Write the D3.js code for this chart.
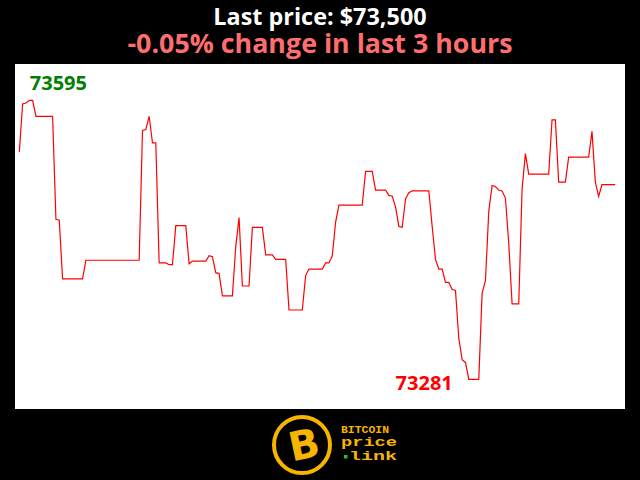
<!DOCTYPE html>
<html><head><meta charset="utf-8">
<script src="https://cdn.jsdelivr.net/npm/d3@7"></script>
<style>html,body{margin:0;padding:0;background:#000;}svg{display:block;}</style>
</head><body>
<svg id="c" width="640" height="480"></svg>
<script>
// minute index (0..179 over the last 3 hours) at each vertex of the line, and price there
const minutes = [0,1,2,3,4,5,10,11,12,13,19,20,36,37,38,39,40,41,42,44,45,46,47,50,51,52,56,57,58,59,60,61,64,65,66,67,69,70,73,74,76,77,80,81,85,86,87,91,92,93,94,95,96,103,104,106,107,110,111,112,113,114,115,116,117,118,123,124,125,126,127,128,129,130,131,132,133,134,135,138,139,140,141,142,143,144,145,146,147,148,150,151,152,153,159,160,161,162,164,165,171,172,173,174,175,179];
const prices = [73537,73591,73592,73595,73595,73577,73577,73461,73460,73394,73394,73415,73415,73561,73562,73577,73547,73547,73412,73412,73410,73410,73454,73454,73411,73414,73414,73420,73419,73401,73400,73375,73375,73430,73463,73386,73386,73452,73452,73421,73421,73416,73416,73359,73359,73398,73405,73405,73412,73412,73420,73458,73477,73477,73515,73515,73494,73494,73488,73487,73475,73453,73452,73484,73491,73493,73493,73453,73416,73405,73405,73390,73390,73382,73381,73327,73303,73300,73281,73281,73378,73392,73470,73499,73498,73494,73493,73485,73434,73366,73366,73495,73535,73512,73512,73573,73573,73503,73503,73531,73531,73560,73503,73487,73500,73500];
const titleLines = ["Last price: $73,500", "-0.05% change in last 3 hours"];
const logoWords = ["BITCOIN", "price", "link"];

const svg = d3.select("#c");
svg.append("rect").attr("width",640).attr("height",480).attr("fill","#000");
svg.append("rect").attr("x",15).attr("y",64).attr("width",610).attr("height",345).attr("fill","#fff");

const data = minutes.map((m,i)=>({m, p: prices[i]}));
const x = d3.scaleLinear().domain([0,179]).range([19.3,615.3]);
const yMin = d3.min(prices), yMax = d3.max(prices);
const y = d3.scaleLinear().domain([yMin,yMax]).range([379.3,100.3]);

svg.append("path").datum(data)
  .attr("d", d3.line().x(d=>x(d.m)).y(d=>y(d.p)))
  .attr("fill","none").attr("stroke","#ff0000").attr("stroke-width",1.2);

const maxD = data.find(d=>d.p===yMax), minD = data.find(d=>d.p===yMin);
svg.append("text").attr("x", x(maxD.m)+0.5).attr("y", y(maxD.p)-10)
  .attr("font-family","'Open Sans'").attr("font-weight","bold").attr("font-size",20)
  .attr("fill","#008000").text(yMax);
svg.append("text").attr("x", x(minD.m)-16).attr("y", y(minD.p)+11).attr("text-anchor","end")
  .attr("font-family","'Open Sans'").attr("font-weight","bold").attr("font-size",20)
  .attr("fill","#ff0000").text(yMin);

svg.append("text").attr("x",320).attr("y",25).attr("text-anchor","middle")
  .attr("font-family","'Open Sans'").attr("font-weight","bold").attr("font-size",23.4)
  .attr("fill","#fff").text(titleLines[0]);
svg.append("text").attr("x",320).attr("y",53).attr("text-anchor","middle")
  .attr("font-family","'Open Sans'").attr("font-weight","bold").attr("font-size",26.8)
  .attr("fill","#ff6e6e").text(titleLines[1]);

// logo
const gold = "#f7b500";
const lg = svg.append("g");
lg.append("circle").attr("cx",302).attr("cy",445).attr("r",28).attr("fill","none").attr("stroke",gold).attr("stroke-width",4);
lg.append("text").attr("x",304).attr("y",459).attr("text-anchor","middle")
  .attr("transform","rotate(-12,302,445)")
  .attr("font-family","'DejaVu Sans'").attr("font-weight","bold").attr("font-size",40)
  .attr("fill",gold).text("B");
lg.append("text").attr("x",341).attr("y",432.5).attr("textLength",48).attr("lengthAdjust","spacingAndGlyphs")
  .attr("font-family","'Liberation Mono'").attr("font-weight","bold").attr("font-size",10.5).attr("fill",gold).text(logoWords[0]);
lg.append("text").attr("x",341).attr("y",446).attr("textLength",56).attr("lengthAdjust","spacingAndGlyphs")
  .attr("font-family","'Liberation Mono'").attr("font-weight","bold").attr("font-size",12).attr("fill",gold).text(logoWords[1]);
lg.append("text").attr("x",349).attr("y",460).attr("textLength",48).attr("lengthAdjust","spacingAndGlyphs")
  .attr("font-family","'Liberation Mono'").attr("font-weight","bold").attr("font-size",12).attr("fill",gold).text(logoWords[2]);
lg.append("rect").attr("x",344).attr("y",455).attr("width",3.5).attr("height",3.5).attr("fill","#2db82d");
</script>
</body></html>
